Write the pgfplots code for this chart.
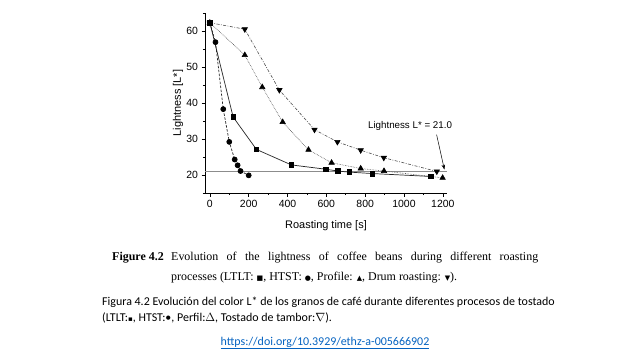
\documentclass[border=0pt]{standalone}
\usepackage{fontspec}
\usepackage{pgfplots}
\pgfplotsset{compat=1.18}
\usetikzlibrary{arrows.meta}
\setmainfont{Liberation Serif}
\newfontfamily\arial{Liberation Sans}
\newfontfamily\carlito{Carlito}
\newfontfamily\dejavu{DejaVu Sans}
\definecolor{linkblue}{HTML}{0563C1}

\begin{document}
\begin{tikzpicture}[x=1bp,y=1bp]
\fill[white] (0,0) rectangle (640,360);
\useasboundingbox (0,0) rectangle (640,360);
\begin{axis}[
  at={(205bp,167bp)}, anchor=south west,
  scale only axis, width=241.7bp, height=180bp,
  xmin=-25, xmax=1220, ymin=15, ymax=65,
  axis lines=left,
  axis line style={-, black, line width=0.6bp},
  xtick={0,200,...,1200}, minor xtick={100,300,...,1100},
  ytick={20,30,...,60}, minor ytick={15,25,...,65},
  tick align=outside,
  major tick length=3.5bp, minor tick length=2.2bp,
  tick style={black, line width=0.6bp},
  /pgf/number format/1000 sep={},
  /pgf/number format/assume math mode=true,
  ticklabel style={font=\arial\fontsize{10.5}{12}\selectfont},
  clip=false,
]
% reference line L* = 21
\addplot[black!45, line width=0.8bp] coordinates {(-25,21) (1220,21)};
% Drum roasting
\addplot[black!70, line width=0.6bp, dash pattern=on 3bp off 1.5bp on 0.8bp off 1.5bp,
  mark=triangle*, mark size=3.1bp, mark options={solid, black, rotate=180}]
  coordinates {(0,62.3) (180,60.5) (358,43.6) (539,32.6) (657,29.2) (777,26.9) (896,24.8) (1169,21.0)};
% Profile
\addplot[black!70, line width=0.6bp, densely dotted,
  mark=triangle*, mark size=3.1bp, mark options={solid, black}]
  coordinates {(0,62.3) (180,53.3) (270,44.4) (375,34.7) (508,27.0) (627,23.4) (777,21.8) (897,21.1) (1199,19.2)};
% LTLT
\addplot[black!85, line width=0.7bp, solid,
  mark=square*, mark size=2.3bp, mark options={solid, black}]
  coordinates {(0,62.3) (120,36.1) (240,27.1) (420,22.8) (598,21.6) (659,21.1) (718,20.8) (838,20.4) (1137,19.6)};
% HTST
\addplot[black!85, line width=0.7bp, dash pattern=on 2.5bp off 1.5bp,
  mark=*, mark size=2.5bp, mark options={solid, black}]
  coordinates {(0,62.3) (29,56.9) (69,38.3) (100,29.2) (128,24.3) (143,22.7) (158,21.1) (200,19.9)};
\node[font=\arial\fontsize{9.8}{11}\selectfont, anchor=center] at (axis cs:1031,33.5) {Lightness L* = 21.0};
\draw[-{Stealth[length=5bp,width=3.5bp]}, black, line width=0.5bp] (axis cs:1168,31.2) -- (axis cs:1208,21.5);
\end{axis}
\node[font=\arial\fontsize{11}{13}\selectfont, anchor=base] at (326,132) {Roasting time [s]};
\node[font=\arial\fontsize{11}{13}\selectfont, rotate=90, anchor=center] at (178,257) {Lightness [L*]};
% English caption
\node[anchor=base east, inner sep=0pt, font=\fontsize{12}{14}\selectfont\bfseries] at (164,100) {Figure 4.2};
\node[anchor=base west, inner sep=0pt, font=\fontsize{12}{14}\selectfont] at (171,100)
  {\makebox[367bp][s]{Evolution of the lightness of coffee beans during different roasting}};
\node[anchor=base west, inner sep=0pt, font=\fontsize{12}{14}\selectfont] at (171,80)
  {processes (LTLT: {\dejavu\fontsize{7}{7}\selectfont ■}, HTST: {\dejavu\fontsize{7}{7}\selectfont ●}, Profile: {\dejavu\fontsize{7}{7}\selectfont ▲}, Drum roasting: {\dejavu\fontsize{7}{7}\selectfont ▼}).};
% Spanish caption
\node[anchor=base west, inner sep=0pt, font=\carlito\fontsize{12}{14}\selectfont] at (102,55)
  {Figura 4.2 Evolución del color L* de los granos de café durante diferentes procesos de tostado};
\node[anchor=base west, inner sep=0pt, font=\carlito\fontsize{12}{14}\selectfont] at (102,39)
  {(LTLT:{\dejavu\fontsize{7}{7}\selectfont ▪}, HTST:•, Perfil:$\Delta$, Tostado de tambor:$\nabla$).};
% URL
\node[anchor=base, inner sep=0pt, font=\carlito\fontsize{12}{14}\selectfont, text=linkblue] at (325,15)
  {\underline{https://doi.org/10.3929/ethz-a-005666902}};
\end{tikzpicture}
\end{document}
